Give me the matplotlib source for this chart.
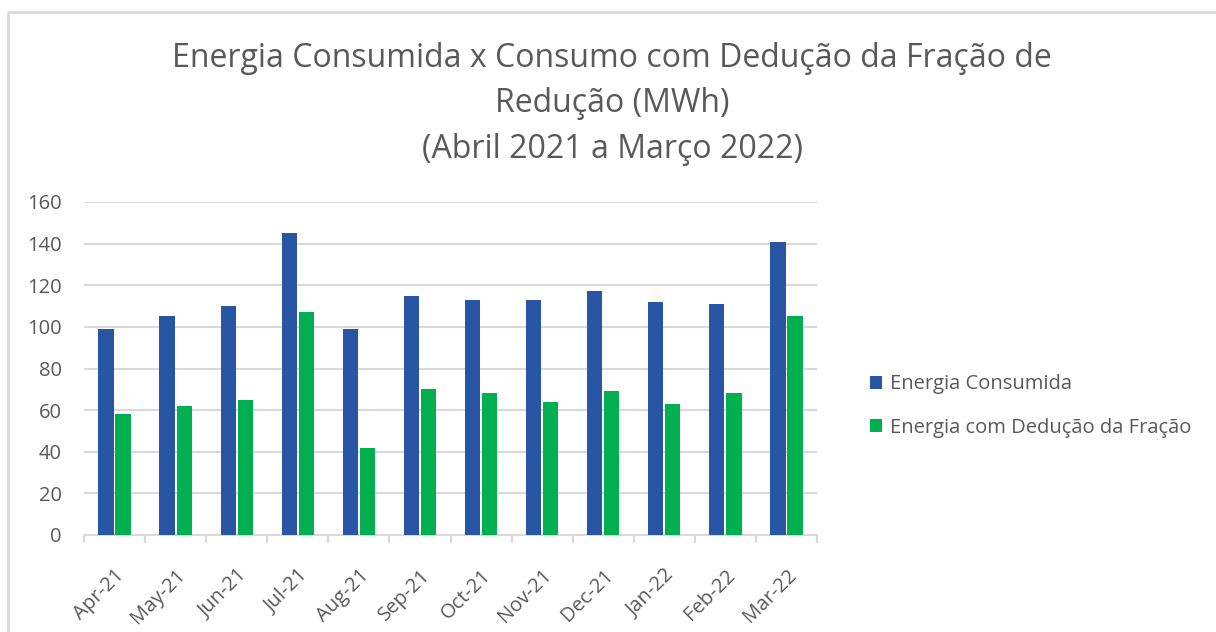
import matplotlib
matplotlib.use("Agg")
import matplotlib.pyplot as plt
import numpy as np
from matplotlib.lines import Line2D

plt.rcParams['font.family'] = ['Open Sans', 'DejaVu Sans']

months = ["Apr-21", "May-21", "Jun-21", "Jul-21", "Aug-21", "Sep-21",
          "Oct-21", "Nov-21", "Dec-21", "Jan-22", "Feb-22", "Mar-22"]
energia_consumida = [99, 105, 110, 145, 99, 115, 113, 113, 117, 112, 111, 141]
energia_deducao = [58, 62, 65, 107, 42, 70, 68, 64, 69, 63, 68, 105]
series_names = ["Energia Consumida", "Energia com Dedução da Fração"]
title_lines = ["Energia Consumida x Consumo com Dedução da Fração de",
               "Redução (MWh)",
               "(Abril 2021 a Março 2022)"]
y_ticks = [0, 20, 40, 60, 80, 100, 120, 140, 160]

W, H = 1216, 632
fig = plt.figure(figsize=(W / 100, H / 100), dpi=100)
ax = fig.add_axes([84 / W, 1 - 535 / H, (817 - 84) / W, (535 - 202) / H])

gray = "#595959"
grid = "#D9D9D9"
blue = "#2955A5"
green = "#00B050"

x = np.arange(len(months))
w = 0.25
off = 0.14
ax.bar(x - off, energia_consumida, w, color=blue, label=series_names[0], zorder=3)
ax.bar(x + off, energia_deducao, w, color=green, label=series_names[1], zorder=3)

ax.set_xlim(-0.5, len(months) - 0.5)
ax.set_ylim(0, 160)
ax.set_yticks(y_ticks)
ax.yaxis.grid(True, color=grid, linewidth=1.5, zorder=0)
ax.set_axisbelow(True)
for s in ["top", "right", "left"]:
    ax.spines[s].set_visible(False)
ax.spines["bottom"].set_color(grid)
ax.spines["bottom"].set_linewidth(1.5)
ax.tick_params(axis="y", length=0, pad=16, labelsize=14.5, labelcolor=gray)

ax.set_xticks(x)
ax.set_xticklabels(months, rotation=45, ha="right", rotation_mode="anchor",
                   fontsize=14.5, color=gray)
ax.tick_params(axis="x", which="major", length=0, pad=22)
ax.set_xticks(np.arange(-0.5, len(months)), minor=True)
ax.tick_params(axis="x", which="minor", length=6, width=1.5, color=grid)

for line, yb in zip(title_lines, [66.7, 112.3, 158]):
    fig.text(612 / W, 1 - yb / H, line, ha="center", va="baseline",
             fontsize=23, color=gray)

leg = fig.legend(loc="center left", bbox_to_anchor=(852 / W, 1 - 406 / H),
                 frameon=False, fontsize=14.5, labelcolor=gray,
                 handlelength=0.6, handleheight=0.6, handletextpad=0.4,
                 labelspacing=1.15)

fig.add_artist(Line2D([7.5 / W, 7.5 / W, 1], [0, 1 - 12 / H, 1 - 12 / H],
                      transform=fig.transFigure, color=grid, linewidth=2))

fig.savefig("out.png", dpi=100)
